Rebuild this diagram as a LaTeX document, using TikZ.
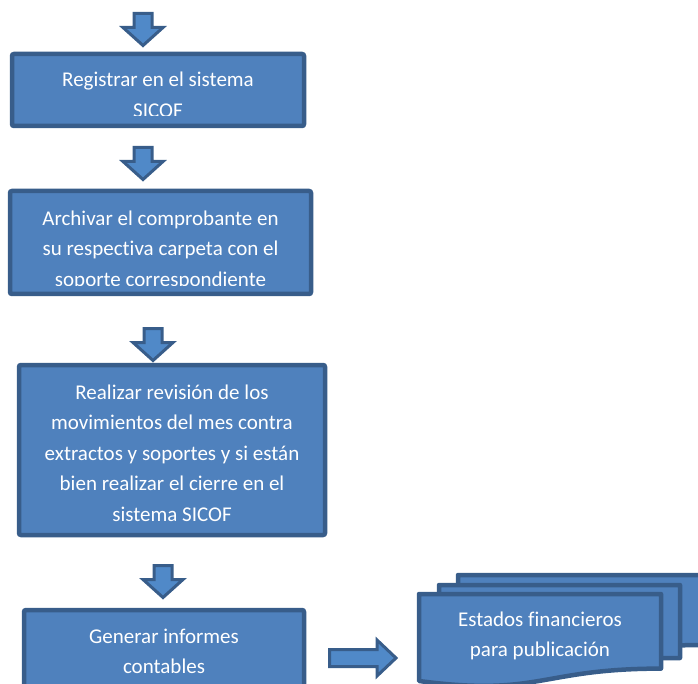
\documentclass[tikz,border=0pt]{standalone}
\usepackage{fontspec}
\setmainfont[Ligatures=NoCommon]{Carlito}
\definecolor{boxfill}{HTML}{4F81BD}
\definecolor{boxline}{HTML}{385D8A}
\definecolor{arrfill}{HTML}{5089C8}
\begin{document}
\begin{tikzpicture}[x=1pt,y=-1pt,
  box/.style={draw=boxline,fill=boxfill,line width=4.5pt,rounded corners=2pt,inner sep=0pt},
  txt/.style={text=white,align=center,inner sep=0pt,font=\fontsize{21}{30.5}\selectfont},
  blockarrow/.style={draw=boxline,fill=arrfill,line width=3pt,line join=miter},
  docshape/.style={draw=boxline,fill=boxfill,line width=4.5pt,line join=round},
  downarr/.pic={\path[blockarrow] (-9,0) -- (9,0) -- (9,14) -- (20,14) -- (0,32) -- (-20,14) -- (-9,14) -- cycle;}
]
\useasboundingbox (0,0) rectangle (698,684);
\clip (0,0) rectangle (698,684);

% block arrows between steps
\pic at (143,13.5) {downarr};
\pic at (143,147.5) {downarr};
\pic at (153,328.5) {downarr};
\pic at (163,565.5) {downarr};

% step 1
\node[box,minimum width=292pt,minimum height=72pt] (b1) at (158,90) {};
\begin{scope}
  \clip (14,56) rectangle (302,116);
  \node[txt,anchor=base] (t1) at (158,117.5) {Registrar en el sistema\\SICOF};
\end{scope}

% step 2
\node[box,minimum width=301pt,minimum height=103pt] (b2) at (160.5,242.5) {};
\begin{scope}
  \clip (12,193) rectangle (309,285.5);
  \node[txt,anchor=base] (t2) at (160.5,286.5) {Archivar el comprobante en\\su respectiva carpeta con el\\soporte correspondiente};
\end{scope}

% step 3
\node[box,minimum width=306pt,minimum height=170pt] (b3) at (172,450) {};
\node[txt,anchor=base] (t3) at (172,521) {Realizar revisión de los\\movimientos del mes contra\\extractos y soportes y si están\\bien realizar el cierre en el\\sistema SICOF};

% step 4
\node[box,minimum width=280pt,minimum height=90pt] (b4) at (164,655) {};
\node[txt,anchor=base] (t4) at (164,673.5) {Generar informes\\contables};

% right block arrow
\path[blockarrow] (329.5,649.5) -- (377,649.5) -- (377,640) -- (396,658) -- (377,676) -- (377,666.5) -- (329.5,666.5) -- cycle;

% multidocument
\path[docshape] (458,575) -- (705,575) -- (705,645) .. controls (581,645) and (581,671) .. (458,656) -- cycle;
\path[docshape] (439,585) -- (680,585) -- (680,658) .. controls (559.5,658) and (559.5,686) .. (439,670) -- cycle;
\path[docshape] (419,594) -- (661,594) -- (661,668.6) .. controls (540,668.6) and (540,697) .. (419,681) -- cycle;
\coordinate (docc) at (540,656.5);
\node[txt,anchor=base] (t5) at (docc) {Estados financieros\\para publicación};
\end{tikzpicture}
\end{document}
